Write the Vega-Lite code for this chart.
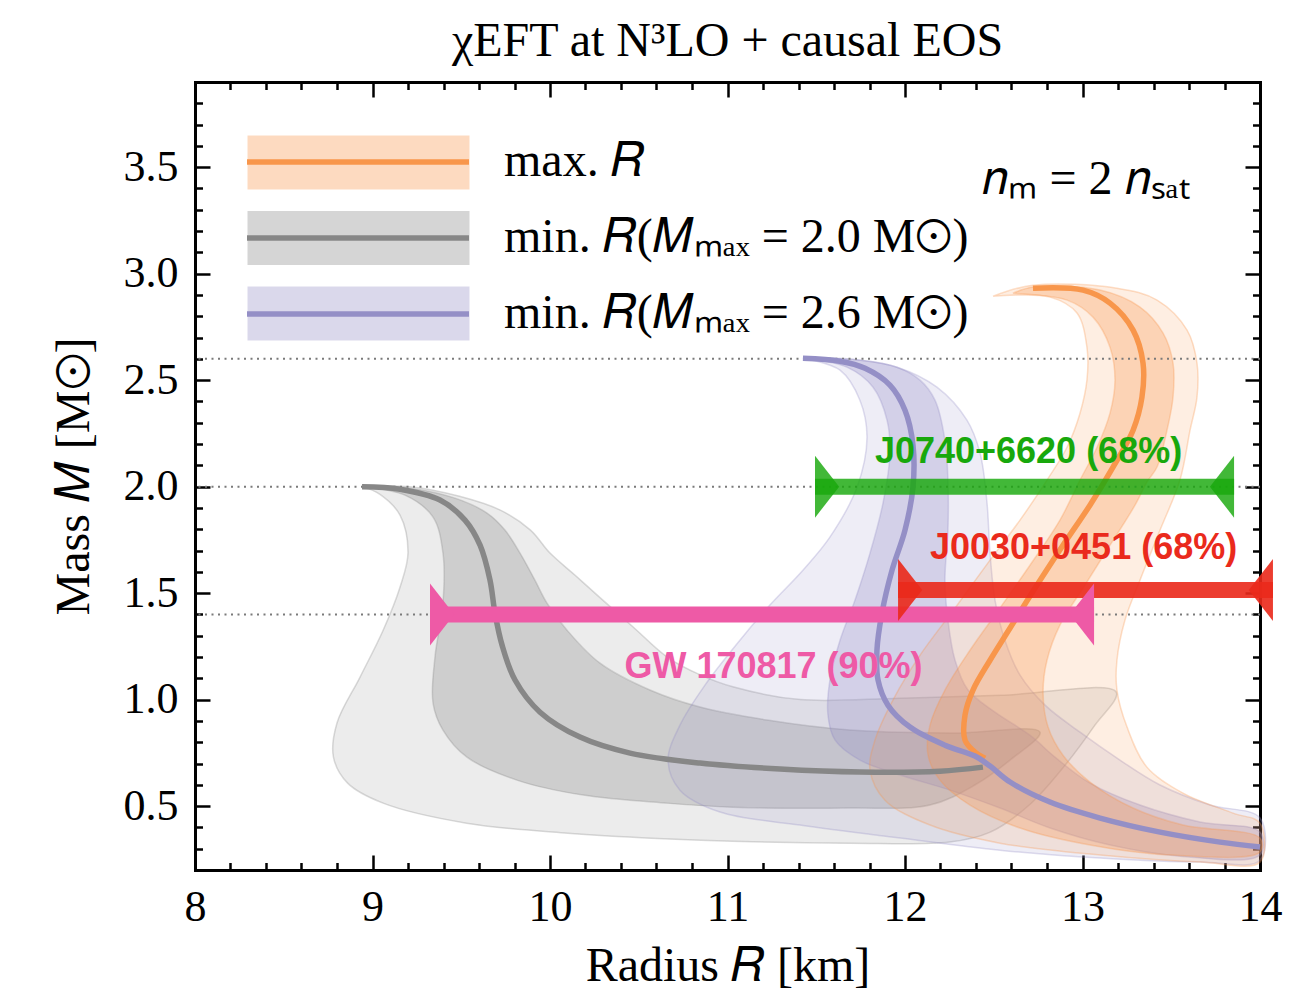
{
"$schema": "https://vega.github.io/schema/vega-lite/v6.json",
"width": 1065, "height": 788,
"autosize": {"type": "none"},
"padding": {"left": 195, "top": 82, "right": 30, "bottom": 120},
"background": "white",
"title": {"text": "χEFT at N³LO + causal EOS", "font": "Liberation Serif", "fontSize": 48, "fontWeight": "normal", "anchor": "middle", "frame": "group", "baseline": "alphabetic", "offset": -23, "color": "black"},
"config": {
  "view": {"stroke": null},
  "axis": {"grid": false, "zindex": 1, "tickColor": "black", "domainColor": "black", "labelColor": "black", "titleColor": "black", "tickWidth": 2.5, "domainWidth": 3, "labelFont": "Liberation Serif", "titleFont": "Liberation Serif", "labelFontSize": 44, "titleFontSize": 48, "titleFontWeight": "normal", "labelOverlap": false, "labelFlush": false, "domainCap": "square"}
},
"resolve": {"axis": {"x": "independent", "y": "independent"}},
"datasets": {
"bands": [
{"band":"b1","series":"min. 𝑅(𝑀ₘₐₓ = 2.0 M⊙)","level":"outer","i":0,"R":8.94,"M":2.0},
{"band":"b1","series":"min. 𝑅(𝑀ₘₐₓ = 2.0 M⊙)","level":"outer","i":1,"R":9.21,"M":2.0},
{"band":"b1","series":"min. 𝑅(𝑀ₘₐₓ = 2.0 M⊙)","level":"outer","i":2,"R":9.49,"M":1.955},
{"band":"b1","series":"min. 𝑅(𝑀ₘₐₓ = 2.0 M⊙)","level":"outer","i":3,"R":9.72,"M":1.89},
{"band":"b1","series":"min. 𝑅(𝑀ₘₐₓ = 2.0 M⊙)","level":"outer","i":4,"R":9.89,"M":1.796},
{"band":"b1","series":"min. 𝑅(𝑀ₘₐₓ = 2.0 M⊙)","level":"outer","i":5,"R":10.0,"M":1.688},
{"band":"b1","series":"min. 𝑅(𝑀ₘₐₓ = 2.0 M⊙)","level":"outer","i":6,"R":10.14,"M":1.585},
{"band":"b1","series":"min. 𝑅(𝑀ₘₐₓ = 2.0 M⊙)","level":"outer","i":7,"R":10.28,"M":1.48},
{"band":"b1","series":"min. 𝑅(𝑀ₘₐₓ = 2.0 M⊙)","level":"outer","i":8,"R":10.47,"M":1.34},
{"band":"b1","series":"min. 𝑅(𝑀ₘₐₓ = 2.0 M⊙)","level":"outer","i":9,"R":10.66,"M":1.2},
{"band":"b1","series":"min. 𝑅(𝑀ₘₐₓ = 2.0 M⊙)","level":"outer","i":10,"R":10.85,"M":1.115},
{"band":"b1","series":"min. 𝑅(𝑀ₘₐₓ = 2.0 M⊙)","level":"outer","i":11,"R":11.03,"M":1.06},
{"band":"b1","series":"min. 𝑅(𝑀ₘₐₓ = 2.0 M⊙)","level":"outer","i":12,"R":11.41,"M":1.0},
{"band":"b1","series":"min. 𝑅(𝑀ₘₐₓ = 2.0 M⊙)","level":"outer","i":13,"R":11.97,"M":1.007},
{"band":"b1","series":"min. 𝑅(𝑀ₘₐₓ = 2.0 M⊙)","level":"outer","i":14,"R":12.54,"M":1.02},
{"band":"b1","series":"min. 𝑅(𝑀ₘₐₓ = 2.0 M⊙)","level":"outer","i":15,"R":13.19,"M":1.035},
{"band":"b1","series":"min. 𝑅(𝑀ₘₐₓ = 2.0 M⊙)","level":"outer","i":16,"R":13.07,"M":0.88},
{"band":"b1","series":"min. 𝑅(𝑀ₘₐₓ = 2.0 M⊙)","level":"outer","i":17,"R":12.9,"M":0.69},
{"band":"b1","series":"min. 𝑅(𝑀ₘₐₓ = 2.0 M⊙)","level":"outer","i":18,"R":12.7,"M":0.505},
{"band":"b1","series":"min. 𝑅(𝑀ₘₐₓ = 2.0 M⊙)","level":"outer","i":19,"R":12.48,"M":0.378},
{"band":"b1","series":"min. 𝑅(𝑀ₘₐₓ = 2.0 M⊙)","level":"outer","i":20,"R":12.25,"M":0.331},
{"band":"b1","series":"min. 𝑅(𝑀ₘₐₓ = 2.0 M⊙)","level":"outer","i":21,"R":11.69,"M":0.326},
{"band":"b1","series":"min. 𝑅(𝑀ₘₐₓ = 2.0 M⊙)","level":"outer","i":22,"R":10.85,"M":0.34},
{"band":"b1","series":"min. 𝑅(𝑀ₘₐₓ = 2.0 M⊙)","level":"outer","i":23,"R":10.1,"M":0.373},
{"band":"b1","series":"min. 𝑅(𝑀ₘₐₓ = 2.0 M⊙)","level":"outer","i":24,"R":9.53,"M":0.42},
{"band":"b1","series":"min. 𝑅(𝑀ₘₐₓ = 2.0 M⊙)","level":"outer","i":25,"R":9.06,"M":0.514},
{"band":"b1","series":"min. 𝑅(𝑀ₘₐₓ = 2.0 M⊙)","level":"outer","i":26,"R":8.86,"M":0.608},
{"band":"b1","series":"min. 𝑅(𝑀ₘₐₓ = 2.0 M⊙)","level":"outer","i":27,"R":8.78,"M":0.73},
{"band":"b1","series":"min. 𝑅(𝑀ₘₐₓ = 2.0 M⊙)","level":"outer","i":28,"R":8.8,"M":0.89},
{"band":"b1","series":"min. 𝑅(𝑀ₘₐₓ = 2.0 M⊙)","level":"outer","i":29,"R":8.93,"M":1.106},
{"band":"b1","series":"min. 𝑅(𝑀ₘₐₓ = 2.0 M⊙)","level":"outer","i":30,"R":9.06,"M":1.326},
{"band":"b1","series":"min. 𝑅(𝑀ₘₐₓ = 2.0 M⊙)","level":"outer","i":31,"R":9.155,"M":1.528},
{"band":"b1","series":"min. 𝑅(𝑀ₘₐₓ = 2.0 M⊙)","level":"outer","i":32,"R":9.2,"M":1.688},
{"band":"b1","series":"min. 𝑅(𝑀ₘₐₓ = 2.0 M⊙)","level":"outer","i":33,"R":9.155,"M":1.866},
{"band":"b1","series":"min. 𝑅(𝑀ₘₐₓ = 2.0 M⊙)","level":"outer","i":34,"R":9.04,"M":1.965},
{"band":"b1","series":"min. 𝑅(𝑀ₘₐₓ = 2.0 M⊙)","level":"outer","i":35,"R":8.94,"M":2.0},
{"band":"b2","series":"min. 𝑅(𝑀ₘₐₓ = 2.0 M⊙)","level":"inner","i":0,"R":8.94,"M":2.0},
{"band":"b2","series":"min. 𝑅(𝑀ₘₐₓ = 2.0 M⊙)","level":"inner","i":1,"R":9.21,"M":1.993},
{"band":"b2","series":"min. 𝑅(𝑀ₘₐₓ = 2.0 M⊙)","level":"inner","i":2,"R":9.465,"M":1.946},
{"band":"b2","series":"min. 𝑅(𝑀ₘₐₓ = 2.0 M⊙)","level":"inner","i":3,"R":9.645,"M":1.876},
{"band":"b2","series":"min. 𝑅(𝑀ₘₐₓ = 2.0 M⊙)","level":"inner","i":4,"R":9.746,"M":1.796},
{"band":"b2","series":"min. 𝑅(𝑀ₘₐₓ = 2.0 M⊙)","level":"inner","i":5,"R":9.831,"M":1.688},
{"band":"b2","series":"min. 𝑅(𝑀ₘₐₓ = 2.0 M⊙)","level":"inner","i":6,"R":9.915,"M":1.561},
{"band":"b2","series":"min. 𝑅(𝑀ₘₐₓ = 2.0 M⊙)","level":"inner","i":7,"R":9.983,"M":1.453},
{"band":"b2","series":"min. 𝑅(𝑀ₘₐₓ = 2.0 M⊙)","level":"inner","i":8,"R":10.096,"M":1.326},
{"band":"b2","series":"min. 𝑅(𝑀ₘₐₓ = 2.0 M⊙)","level":"inner","i":9,"R":10.282,"M":1.171},
{"band":"b2","series":"min. 𝑅(𝑀ₘₐₓ = 2.0 M⊙)","level":"inner","i":10,"R":10.563,"M":1.045},
{"band":"b2","series":"min. 𝑅(𝑀ₘₐₓ = 2.0 M⊙)","level":"inner","i":11,"R":10.845,"M":0.965},
{"band":"b2","series":"min. 𝑅(𝑀ₘₐₓ = 2.0 M⊙)","level":"inner","i":12,"R":11.223,"M":0.904},
{"band":"b2","series":"min. 𝑅(𝑀ₘₐₓ = 2.0 M⊙)","level":"inner","i":13,"R":11.69,"M":0.857},
{"band":"b2","series":"min. 𝑅(𝑀ₘₐₓ = 2.0 M⊙)","level":"inner","i":14,"R":12.254,"M":0.843},
{"band":"b2","series":"min. 𝑅(𝑀ₘₐₓ = 2.0 M⊙)","level":"inner","i":15,"R":12.761,"M":0.847},
{"band":"b2","series":"min. 𝑅(𝑀ₘₐₓ = 2.0 M⊙)","level":"inner","i":16,"R":12.592,"M":0.716},
{"band":"b2","series":"min. 𝑅(𝑀ₘₐₓ = 2.0 M⊙)","level":"inner","i":17,"R":12.394,"M":0.599},
{"band":"b2","series":"min. 𝑅(𝑀ₘₐₓ = 2.0 M⊙)","level":"inner","i":18,"R":12.141,"M":0.505},
{"band":"b2","series":"min. 𝑅(𝑀ₘₐₓ = 2.0 M⊙)","level":"inner","i":19,"R":11.69,"M":0.491},
{"band":"b2","series":"min. 𝑅(𝑀ₘₐₓ = 2.0 M⊙)","level":"inner","i":20,"R":11.031,"M":0.495},
{"band":"b2","series":"min. 𝑅(𝑀ₘₐₓ = 2.0 M⊙)","level":"inner","i":21,"R":10.659,"M":0.514},
{"band":"b2","series":"min. 𝑅(𝑀ₘₐₓ = 2.0 M⊙)","level":"inner","i":22,"R":10.186,"M":0.552},
{"band":"b2","series":"min. 𝑅(𝑀ₘₐₓ = 2.0 M⊙)","level":"inner","i":23,"R":9.814,"M":0.622},
{"band":"b2","series":"min. 𝑅(𝑀ₘₐₓ = 2.0 M⊙)","level":"inner","i":24,"R":9.532,"M":0.73},
{"band":"b2","series":"min. 𝑅(𝑀ₘₐₓ = 2.0 M⊙)","level":"inner","i":25,"R":9.397,"M":0.857},
{"band":"b2","series":"min. 𝑅(𝑀ₘₐₓ = 2.0 M⊙)","level":"inner","i":26,"R":9.341,"M":0.984},
{"band":"b2","series":"min. 𝑅(𝑀ₘₐₓ = 2.0 M⊙)","level":"inner","i":27,"R":9.352,"M":1.2},
{"band":"b2","series":"min. 𝑅(𝑀ₘₐₓ = 2.0 M⊙)","level":"inner","i":28,"R":9.397,"M":1.453},
{"band":"b2","series":"min. 𝑅(𝑀ₘₐₓ = 2.0 M⊙)","level":"inner","i":29,"R":9.397,"M":1.688},
{"band":"b2","series":"min. 𝑅(𝑀ₘₐₓ = 2.0 M⊙)","level":"inner","i":30,"R":9.341,"M":1.857},
{"band":"b2","series":"min. 𝑅(𝑀ₘₐₓ = 2.0 M⊙)","level":"inner","i":31,"R":9.183,"M":1.96},
{"band":"b2","series":"min. 𝑅(𝑀ₘₐₓ = 2.0 M⊙)","level":"inner","i":32,"R":8.94,"M":2.0},
{"band":"b3","series":"min. 𝑅(𝑀ₘₐₓ = 2.6 M⊙)","level":"outer","i":0,"R":11.425,"M":2.603},
{"band":"b3","series":"min. 𝑅(𝑀ₘₐₓ = 2.6 M⊙)","level":"outer","i":1,"R":11.69,"M":2.599},
{"band":"b3","series":"min. 𝑅(𝑀ₘₐₓ = 2.6 M⊙)","level":"outer","i":2,"R":11.955,"M":2.561},
{"band":"b3","series":"min. 𝑅(𝑀ₘₐₓ = 2.6 M⊙)","level":"outer","i":3,"R":12.18,"M":2.467},
{"band":"b3","series":"min. 𝑅(𝑀ₘₐₓ = 2.6 M⊙)","level":"outer","i":4,"R":12.349,"M":2.312},
{"band":"b3","series":"min. 𝑅(𝑀ₘₐₓ = 2.6 M⊙)","level":"outer","i":5,"R":12.423,"M":2.157},
{"band":"b3","series":"min. 𝑅(𝑀ₘₐₓ = 2.6 M⊙)","level":"outer","i":6,"R":12.462,"M":1.923},
{"band":"b3","series":"min. 𝑅(𝑀ₘₐₓ = 2.6 M⊙)","level":"outer","i":7,"R":12.479,"M":1.688},
{"band":"b3","series":"min. 𝑅(𝑀ₘₐₓ = 2.6 M⊙)","level":"outer","i":8,"R":12.507,"M":1.467},
{"band":"b3","series":"min. 𝑅(𝑀ₘₐₓ = 2.6 M⊙)","level":"outer","i":9,"R":12.563,"M":1.279},
{"band":"b3","series":"min. 𝑅(𝑀ₘₐₓ = 2.6 M⊙)","level":"outer","i":10,"R":12.648,"M":1.115},
{"band":"b3","series":"min. 𝑅(𝑀ₘₐₓ = 2.6 M⊙)","level":"outer","i":11,"R":12.789,"M":0.974},
{"band":"b3","series":"min. 𝑅(𝑀ₘₐₓ = 2.6 M⊙)","level":"outer","i":12,"R":12.986,"M":0.847},
{"band":"b3","series":"min. 𝑅(𝑀ₘₐₓ = 2.6 M⊙)","level":"outer","i":13,"R":13.211,"M":0.716},
{"band":"b3","series":"min. 𝑅(𝑀ₘₐₓ = 2.6 M⊙)","level":"outer","i":14,"R":13.437,"M":0.599},
{"band":"b3","series":"min. 𝑅(𝑀ₘₐₓ = 2.6 M⊙)","level":"outer","i":15,"R":13.718,"M":0.505},
{"band":"b3","series":"min. 𝑅(𝑀ₘₐₓ = 2.6 M⊙)","level":"outer","i":16,"R":14.0,"M":0.444},
{"band":"b3","series":"min. 𝑅(𝑀ₘₐₓ = 2.6 M⊙)","level":"outer","i":17,"R":14.0,"M":0.246},
{"band":"b3","series":"min. 𝑅(𝑀ₘₐₓ = 2.6 M⊙)","level":"outer","i":18,"R":13.662,"M":0.237},
{"band":"b3","series":"min. 𝑅(𝑀ₘₐₓ = 2.6 M⊙)","level":"outer","i":19,"R":13.099,"M":0.256},
{"band":"b3","series":"min. 𝑅(𝑀ₘₐₓ = 2.6 M⊙)","level":"outer","i":20,"R":12.535,"M":0.293},
{"band":"b3","series":"min. 𝑅(𝑀ₘₐₓ = 2.6 M⊙)","level":"outer","i":21,"R":11.972,"M":0.35},
{"band":"b3","series":"min. 𝑅(𝑀ₘₐₓ = 2.6 M⊙)","level":"outer","i":22,"R":11.408,"M":0.411},
{"band":"b3","series":"min. 𝑅(𝑀ₘₐₓ = 2.6 M⊙)","level":"outer","i":23,"R":10.958,"M":0.472},
{"band":"b3","series":"min. 𝑅(𝑀ₘₐₓ = 2.6 M⊙)","level":"outer","i":24,"R":10.732,"M":0.575},
{"band":"b3","series":"min. 𝑅(𝑀ₘₐₓ = 2.6 M⊙)","level":"outer","i":25,"R":10.665,"M":0.716},
{"band":"b3","series":"min. 𝑅(𝑀ₘₐₓ = 2.6 M⊙)","level":"outer","i":26,"R":10.732,"M":0.88},
{"band":"b3","series":"min. 𝑅(𝑀ₘₐₓ = 2.6 M⊙)","level":"outer","i":27,"R":10.873,"M":1.068},
{"band":"b3","series":"min. 𝑅(𝑀ₘₐₓ = 2.6 M⊙)","level":"outer","i":28,"R":11.07,"M":1.279},
{"band":"b3","series":"min. 𝑅(𝑀ₘₐₓ = 2.6 M⊙)","level":"outer","i":29,"R":11.239,"M":1.444},
{"band":"b3","series":"min. 𝑅(𝑀ₘₐₓ = 2.6 M⊙)","level":"outer","i":30,"R":11.425,"M":1.608},
{"band":"b3","series":"min. 𝑅(𝑀ₘₐₓ = 2.6 M⊙)","level":"outer","i":31,"R":11.577,"M":1.763},
{"band":"b3","series":"min. 𝑅(𝑀ₘₐₓ = 2.6 M⊙)","level":"outer","i":32,"R":11.73,"M":1.998},
{"band":"b3","series":"min. 𝑅(𝑀ₘₐₓ = 2.6 M⊙)","level":"outer","i":33,"R":11.786,"M":2.232},
{"band":"b3","series":"min. 𝑅(𝑀ₘₐₓ = 2.6 M⊙)","level":"outer","i":34,"R":11.746,"M":2.406},
{"band":"b3","series":"min. 𝑅(𝑀ₘₐₓ = 2.6 M⊙)","level":"outer","i":35,"R":11.634,"M":2.547},
{"band":"b3","series":"min. 𝑅(𝑀ₘₐₓ = 2.6 M⊙)","level":"outer","i":36,"R":11.425,"M":2.603},
{"band":"b4","series":"min. 𝑅(𝑀ₘₐₓ = 2.6 M⊙)","level":"inner","i":0,"R":11.425,"M":2.603},
{"band":"b4","series":"min. 𝑅(𝑀ₘₐₓ = 2.6 M⊙)","level":"inner","i":1,"R":11.746,"M":2.594},
{"band":"b4","series":"min. 𝑅(𝑀ₘₐₓ = 2.6 M⊙)","level":"inner","i":2,"R":11.955,"M":2.561},
{"band":"b4","series":"min. 𝑅(𝑀ₘₐₓ = 2.6 M⊙)","level":"inner","i":3,"R":12.085,"M":2.5},
{"band":"b4","series":"min. 𝑅(𝑀ₘₐₓ = 2.6 M⊙)","level":"inner","i":4,"R":12.169,"M":2.406},
{"band":"b4","series":"min. 𝑅(𝑀ₘₐₓ = 2.6 M⊙)","level":"inner","i":5,"R":12.225,"M":2.218},
{"band":"b4","series":"min. 𝑅(𝑀ₘₐₓ = 2.6 M⊙)","level":"inner","i":6,"R":12.242,"M":2.031},
{"band":"b4","series":"min. 𝑅(𝑀ₘₐₓ = 2.6 M⊙)","level":"inner","i":7,"R":12.242,"M":1.796},
{"band":"b4","series":"min. 𝑅(𝑀ₘₐₓ = 2.6 M⊙)","level":"inner","i":8,"R":12.225,"M":1.561},
{"band":"b4","series":"min. 𝑅(𝑀ₘₐₓ = 2.6 M⊙)","level":"inner","i":9,"R":12.242,"M":1.373},
{"band":"b4","series":"min. 𝑅(𝑀ₘₐₓ = 2.6 M⊙)","level":"inner","i":10,"R":12.282,"M":1.185},
{"band":"b4","series":"min. 𝑅(𝑀ₘₐₓ = 2.6 M⊙)","level":"inner","i":11,"R":12.355,"M":1.045},
{"band":"b4","series":"min. 𝑅(𝑀ₘₐₓ = 2.6 M⊙)","level":"inner","i":12,"R":12.507,"M":0.941},
{"band":"b4","series":"min. 𝑅(𝑀ₘₐₓ = 2.6 M⊙)","level":"inner","i":13,"R":12.704,"M":0.833},
{"band":"b4","series":"min. 𝑅(𝑀ₘₐₓ = 2.6 M⊙)","level":"inner","i":14,"R":12.845,"M":0.73},
{"band":"b4","series":"min. 𝑅(𝑀ₘₐₓ = 2.6 M⊙)","level":"inner","i":15,"R":13.042,"M":0.608},
{"band":"b4","series":"min. 𝑅(𝑀ₘₐₓ = 2.6 M⊙)","level":"inner","i":16,"R":13.324,"M":0.505},
{"band":"b4","series":"min. 𝑅(𝑀ₘₐₓ = 2.6 M⊙)","level":"inner","i":17,"R":13.662,"M":0.425},
{"band":"b4","series":"min. 𝑅(𝑀ₘₐₓ = 2.6 M⊙)","level":"inner","i":18,"R":14.0,"M":0.378},
{"band":"b4","series":"min. 𝑅(𝑀ₘₐₓ = 2.6 M⊙)","level":"inner","i":19,"R":14.0,"M":0.27},
{"band":"b4","series":"min. 𝑅(𝑀ₘₐₓ = 2.6 M⊙)","level":"inner","i":20,"R":13.549,"M":0.265},
{"band":"b4","series":"min. 𝑅(𝑀ₘₐₓ = 2.6 M⊙)","level":"inner","i":21,"R":13.155,"M":0.317},
{"band":"b4","series":"min. 𝑅(𝑀ₘₐₓ = 2.6 M⊙)","level":"inner","i":22,"R":12.817,"M":0.397},
{"band":"b4","series":"min. 𝑅(𝑀ₘₐₓ = 2.6 M⊙)","level":"inner","i":23,"R":12.535,"M":0.491},
{"band":"b4","series":"min. 𝑅(𝑀ₘₐₓ = 2.6 M⊙)","level":"inner","i":24,"R":12.254,"M":0.575},
{"band":"b4","series":"min. 𝑅(𝑀ₘₐₓ = 2.6 M⊙)","level":"inner","i":25,"R":11.972,"M":0.646},
{"band":"b4","series":"min. 𝑅(𝑀ₘₐₓ = 2.6 M⊙)","level":"inner","i":26,"R":11.746,"M":0.716},
{"band":"b4","series":"min. 𝑅(𝑀ₘₐₓ = 2.6 M⊙)","level":"inner","i":27,"R":11.606,"M":0.81},
{"band":"b4","series":"min. 𝑅(𝑀ₘₐₓ = 2.6 M⊙)","level":"inner","i":28,"R":11.566,"M":0.927},
{"band":"b4","series":"min. 𝑅(𝑀ₘₐₓ = 2.6 M⊙)","level":"inner","i":29,"R":11.577,"M":1.092},
{"band":"b4","series":"min. 𝑅(𝑀ₘₐₓ = 2.6 M⊙)","level":"inner","i":30,"R":11.634,"M":1.279},
{"band":"b4","series":"min. 𝑅(𝑀ₘₐₓ = 2.6 M⊙)","level":"inner","i":31,"R":11.718,"M":1.467},
{"band":"b4","series":"min. 𝑅(𝑀ₘₐₓ = 2.6 M⊙)","level":"inner","i":32,"R":11.803,"M":1.688},
{"band":"b4","series":"min. 𝑅(𝑀ₘₐₓ = 2.6 M⊙)","level":"inner","i":33,"R":11.876,"M":1.923},
{"band":"b4","series":"min. 𝑅(𝑀ₘₐₓ = 2.6 M⊙)","level":"inner","i":34,"R":11.915,"M":2.157},
{"band":"b4","series":"min. 𝑅(𝑀ₘₐₓ = 2.6 M⊙)","level":"inner","i":35,"R":11.899,"M":2.312},
{"band":"b4","series":"min. 𝑅(𝑀ₘₐₓ = 2.6 M⊙)","level":"inner","i":36,"R":11.82,"M":2.467},
{"band":"b4","series":"min. 𝑅(𝑀ₘₐₓ = 2.6 M⊙)","level":"inner","i":37,"R":11.673,"M":2.561},
{"band":"b4","series":"min. 𝑅(𝑀ₘₐₓ = 2.6 M⊙)","level":"inner","i":38,"R":11.425,"M":2.603},
{"band":"b5","series":"max. 𝑅","level":"outer","i":0,"R":12.496,"M":2.894},
{"band":"b5","series":"max. 𝑅","level":"outer","i":1,"R":12.721,"M":2.946},
{"band":"b5","series":"max. 𝑅","level":"outer","i":2,"R":13.194,"M":2.932},
{"band":"b5","series":"max. 𝑅","level":"outer","i":3,"R":13.42,"M":2.876},
{"band":"b5","series":"max. 𝑅","level":"outer","i":4,"R":13.589,"M":2.735},
{"band":"b5","series":"max. 𝑅","level":"outer","i":5,"R":13.645,"M":2.58},
{"band":"b5","series":"max. 𝑅","level":"outer","i":6,"R":13.645,"M":2.42},
{"band":"b5","series":"max. 𝑅","level":"outer","i":7,"R":13.606,"M":2.265},
{"band":"b5","series":"max. 𝑅","level":"outer","i":8,"R":13.549,"M":2.031},
{"band":"b5","series":"max. 𝑅","level":"outer","i":9,"R":13.437,"M":1.796},
{"band":"b5","series":"max. 𝑅","level":"outer","i":10,"R":13.324,"M":1.561},
{"band":"b5","series":"max. 𝑅","level":"outer","i":11,"R":13.239,"M":1.373},
{"band":"b5","series":"max. 𝑅","level":"outer","i":12,"R":13.194,"M":1.185},
{"band":"b5","series":"max. 𝑅","level":"outer","i":13,"R":13.194,"M":1.045},
{"band":"b5","series":"max. 𝑅","level":"outer","i":14,"R":13.251,"M":0.871},
{"band":"b5","series":"max. 𝑅","level":"outer","i":15,"R":13.363,"M":0.683},
{"band":"b5","series":"max. 𝑅","level":"outer","i":16,"R":13.566,"M":0.561},
{"band":"b5","series":"max. 𝑅","level":"outer","i":17,"R":13.848,"M":0.467},
{"band":"b5","series":"max. 𝑅","level":"outer","i":18,"R":14.0,"M":0.42},
{"band":"b5","series":"max. 𝑅","level":"outer","i":19,"R":14.0,"M":0.237},
{"band":"b5","series":"max. 𝑅","level":"outer","i":20,"R":13.662,"M":0.237},
{"band":"b5","series":"max. 𝑅","level":"outer","i":21,"R":13.099,"M":0.27},
{"band":"b5","series":"max. 𝑅","level":"outer","i":22,"R":12.535,"M":0.326},
{"band":"b5","series":"max. 𝑅","level":"outer","i":23,"R":12.141,"M":0.411},
{"band":"b5","series":"max. 𝑅","level":"outer","i":24,"R":11.887,"M":0.528},
{"band":"b5","series":"max. 𝑅","level":"outer","i":25,"R":11.803,"M":0.669},
{"band":"b5","series":"max. 𝑅","level":"outer","i":26,"R":11.831,"M":0.81},
{"band":"b5","series":"max. 𝑅","level":"outer","i":27,"R":11.932,"M":0.998},
{"band":"b5","series":"max. 𝑅","level":"outer","i":28,"R":12.085,"M":1.209},
{"band":"b5","series":"max. 𝑅","level":"outer","i":29,"R":12.282,"M":1.43},
{"band":"b5","series":"max. 𝑅","level":"outer","i":30,"R":12.479,"M":1.655},
{"band":"b5","series":"max. 𝑅","level":"outer","i":31,"R":12.648,"M":1.843},
{"band":"b5","series":"max. 𝑅","level":"outer","i":32,"R":12.8,"M":2.031},
{"band":"b5","series":"max. 𝑅","level":"outer","i":33,"R":12.913,"M":2.185},
{"band":"b5","series":"max. 𝑅","level":"outer","i":34,"R":12.986,"M":2.345},
{"band":"b5","series":"max. 𝑅","level":"outer","i":35,"R":13.025,"M":2.5},
{"band":"b5","series":"max. 𝑅","level":"outer","i":36,"R":13.025,"M":2.655},
{"band":"b5","series":"max. 𝑅","level":"outer","i":37,"R":12.969,"M":2.815},
{"band":"b5","series":"max. 𝑅","level":"outer","i":38,"R":12.817,"M":2.89},
{"band":"b5","series":"max. 𝑅","level":"outer","i":39,"R":12.496,"M":2.894},
{"band":"b6","series":"max. 𝑅","level":"inner","i":0,"R":12.608,"M":2.908},
{"band":"b6","series":"max. 𝑅","level":"inner","i":1,"R":12.721,"M":2.937},
{"band":"b6","series":"max. 𝑅","level":"inner","i":2,"R":13.099,"M":2.923},
{"band":"b6","series":"max. 𝑅","level":"inner","i":3,"R":13.324,"M":2.843},
{"band":"b6","series":"max. 𝑅","level":"inner","i":4,"R":13.454,"M":2.721},
{"band":"b6","series":"max. 𝑅","level":"inner","i":5,"R":13.51,"M":2.58},
{"band":"b6","series":"max. 𝑅","level":"inner","i":6,"R":13.51,"M":2.42},
{"band":"b6","series":"max. 𝑅","level":"inner","i":7,"R":13.476,"M":2.265},
{"band":"b6","series":"max. 𝑅","level":"inner","i":8,"R":13.42,"M":2.092},
{"band":"b6","series":"max. 𝑅","level":"inner","i":9,"R":13.363,"M":2.021},
{"band":"b6","series":"max. 𝑅","level":"inner","i":10,"R":13.296,"M":1.913},
{"band":"b6","series":"max. 𝑅","level":"inner","i":11,"R":13.155,"M":1.725},
{"band":"b6","series":"max. 𝑅","level":"inner","i":12,"R":13.014,"M":1.538},
{"band":"b6","series":"max. 𝑅","level":"inner","i":13,"R":12.873,"M":1.35},
{"band":"b6","series":"max. 𝑅","level":"inner","i":14,"R":12.8,"M":1.185},
{"band":"b6","series":"max. 𝑅","level":"inner","i":15,"R":12.778,"M":1.031},
{"band":"b6","series":"max. 𝑅","level":"inner","i":16,"R":12.806,"M":0.871},
{"band":"b6","series":"max. 𝑅","level":"inner","i":17,"R":12.89,"M":0.739},
{"band":"b6","series":"max. 𝑅","level":"inner","i":18,"R":13.042,"M":0.613},
{"band":"b6","series":"max. 𝑅","level":"inner","i":19,"R":13.285,"M":0.491},
{"band":"b6","series":"max. 𝑅","level":"inner","i":20,"R":13.566,"M":0.411},
{"band":"b6","series":"max. 𝑅","level":"inner","i":21,"R":14.0,"M":0.35},
{"band":"b6","series":"max. 𝑅","level":"inner","i":22,"R":14.0,"M":0.284},
{"band":"b6","series":"max. 𝑅","level":"inner","i":23,"R":13.493,"M":0.27},
{"band":"b6","series":"max. 𝑅","level":"inner","i":24,"R":13.042,"M":0.317},
{"band":"b6","series":"max. 𝑅","level":"inner","i":25,"R":12.648,"M":0.397},
{"band":"b6","series":"max. 𝑅","level":"inner","i":26,"R":12.366,"M":0.505},
{"band":"b6","series":"max. 𝑅","level":"inner","i":27,"R":12.197,"M":0.622},
{"band":"b6","series":"max. 𝑅","level":"inner","i":28,"R":12.13,"M":0.739},
{"band":"b6","series":"max. 𝑅","level":"inner","i":29,"R":12.141,"M":0.88},
{"band":"b6","series":"max. 𝑅","level":"inner","i":30,"R":12.225,"M":1.045},
{"band":"b6","series":"max. 𝑅","level":"inner","i":31,"R":12.366,"M":1.232},
{"band":"b6","series":"max. 𝑅","level":"inner","i":32,"R":12.535,"M":1.43},
{"band":"b6","series":"max. 𝑅","level":"inner","i":33,"R":12.704,"M":1.631},
{"band":"b6","series":"max. 𝑅","level":"inner","i":34,"R":12.873,"M":1.843},
{"band":"b6","series":"max. 𝑅","level":"inner","i":35,"R":12.986,"M":2.031},
{"band":"b6","series":"max. 𝑅","level":"inner","i":36,"R":13.082,"M":2.185},
{"band":"b6","series":"max. 𝑅","level":"inner","i":37,"R":13.155,"M":2.345},
{"band":"b6","series":"max. 𝑅","level":"inner","i":38,"R":13.183,"M":2.5},
{"band":"b6","series":"max. 𝑅","level":"inner","i":39,"R":13.155,"M":2.655},
{"band":"b6","series":"max. 𝑅","level":"inner","i":40,"R":13.059,"M":2.796},
{"band":"b6","series":"max. 𝑅","level":"inner","i":41,"R":12.913,"M":2.876},
{"band":"b6","series":"max. 𝑅","level":"inner","i":42,"R":12.608,"M":2.908}
],
"lines": [
{"series":"min. 𝑅(𝑀ₘₐₓ = 2.0 M⊙)","i":0,"R":8.941,"M":2.0},
{"series":"min. 𝑅(𝑀ₘₐₓ = 2.0 M⊙)","i":1,"R":9.155,"M":1.988},
{"series":"min. 𝑅(𝑀ₘₐₓ = 2.0 M⊙)","i":2,"R":9.38,"M":1.937},
{"series":"min. 𝑅(𝑀ₘₐₓ = 2.0 M⊙)","i":3,"R":9.521,"M":1.843},
{"series":"min. 𝑅(𝑀ₘₐₓ = 2.0 M⊙)","i":4,"R":9.606,"M":1.725},
{"series":"min. 𝑅(𝑀ₘₐₓ = 2.0 M⊙)","i":5,"R":9.662,"M":1.561},
{"series":"min. 𝑅(𝑀ₘₐₓ = 2.0 M⊙)","i":6,"R":9.69,"M":1.406},
{"series":"min. 𝑅(𝑀ₘₐₓ = 2.0 M⊙)","i":7,"R":9.73,"M":1.256},
{"series":"min. 𝑅(𝑀ₘₐₓ = 2.0 M⊙)","i":8,"R":9.803,"M":1.092},
{"series":"min. 𝑅(𝑀ₘₐₓ = 2.0 M⊙)","i":9,"R":9.944,"M":0.941},
{"series":"min. 𝑅(𝑀ₘₐₓ = 2.0 M⊙)","i":10,"R":10.169,"M":0.824},
{"series":"min. 𝑅(𝑀ₘₐₓ = 2.0 M⊙)","i":11,"R":10.451,"M":0.749},
{"series":"min. 𝑅(𝑀ₘₐₓ = 2.0 M⊙)","i":12,"R":10.845,"M":0.702},
{"series":"min. 𝑅(𝑀ₘₐₓ = 2.0 M⊙)","i":13,"R":11.296,"M":0.674},
{"series":"min. 𝑅(𝑀ₘₐₓ = 2.0 M⊙)","i":14,"R":11.746,"M":0.66},
{"series":"min. 𝑅(𝑀ₘₐₓ = 2.0 M⊙)","i":15,"R":12.197,"M":0.664},
{"series":"min. 𝑅(𝑀ₘₐₓ = 2.0 M⊙)","i":16,"R":12.439,"M":0.683},
{"series":"max. 𝑅","i":0,"R":12.721,"M":2.932},
{"series":"max. 𝑅","i":1,"R":13.003,"M":2.923},
{"series":"max. 𝑅","i":2,"R":13.155,"M":2.862},
{"series":"max. 𝑅","i":3,"R":13.285,"M":2.735},
{"series":"max. 𝑅","i":4,"R":13.341,"M":2.58},
{"series":"max. 𝑅","i":5,"R":13.335,"M":2.42},
{"series":"max. 𝑅","i":6,"R":13.285,"M":2.265},
{"series":"max. 𝑅","i":7,"R":13.172,"M":2.092},
{"series":"max. 𝑅","i":8,"R":13.042,"M":1.913},
{"series":"max. 𝑅","i":9,"R":12.89,"M":1.725},
{"series":"max. 𝑅","i":10,"R":12.732,"M":1.523},
{"series":"max. 𝑅","i":11,"R":12.592,"M":1.336},
{"series":"max. 𝑅","i":12,"R":12.479,"M":1.185},
{"series":"max. 𝑅","i":13,"R":12.383,"M":1.045},
{"series":"max. 𝑅","i":14,"R":12.338,"M":0.927},
{"series":"max. 𝑅","i":15,"R":12.338,"M":0.81},
{"series":"max. 𝑅","i":16,"R":12.394,"M":0.754},
{"series":"max. 𝑅","i":17,"R":12.451,"M":0.725},
{"series":"min. 𝑅(𝑀ₘₐₓ = 2.6 M⊙)","i":0,"R":11.425,"M":2.603},
{"series":"min. 𝑅(𝑀ₘₐₓ = 2.6 M⊙)","i":1,"R":11.634,"M":2.589},
{"series":"min. 𝑅(𝑀ₘₐₓ = 2.6 M⊙)","i":2,"R":11.775,"M":2.556},
{"series":"min. 𝑅(𝑀ₘₐₓ = 2.6 M⊙)","i":3,"R":11.915,"M":2.477},
{"series":"min. 𝑅(𝑀ₘₐₓ = 2.6 M⊙)","i":4,"R":12.0,"M":2.359},
{"series":"min. 𝑅(𝑀ₘₐₓ = 2.6 M⊙)","i":5,"R":12.045,"M":2.195},
{"series":"min. 𝑅(𝑀ₘₐₓ = 2.6 M⊙)","i":6,"R":12.045,"M":1.998},
{"series":"min. 𝑅(𝑀ₘₐₓ = 2.6 M⊙)","i":7,"R":12.0,"M":1.796},
{"series":"min. 𝑅(𝑀ₘₐₓ = 2.6 M⊙)","i":8,"R":11.927,"M":1.608},
{"series":"min. 𝑅(𝑀ₘₐₓ = 2.6 M⊙)","i":9,"R":11.87,"M":1.406},
{"series":"min. 𝑅(𝑀ₘₐₓ = 2.6 M⊙)","i":10,"R":11.842,"M":1.232},
{"series":"min. 𝑅(𝑀ₘₐₓ = 2.6 M⊙)","i":11,"R":11.848,"M":1.092},
{"series":"min. 𝑅(𝑀ₘₐₓ = 2.6 M⊙)","i":12,"R":11.904,"M":0.974},
{"series":"min. 𝑅(𝑀ₘₐₓ = 2.6 M⊙)","i":13,"R":12.028,"M":0.871},
{"series":"min. 𝑅(𝑀ₘₐₓ = 2.6 M⊙)","i":14,"R":12.225,"M":0.786},
{"series":"min. 𝑅(𝑀ₘₐₓ = 2.6 M⊙)","i":15,"R":12.394,"M":0.735},
{"series":"min. 𝑅(𝑀ₘₐₓ = 2.6 M⊙)","i":16,"R":12.479,"M":0.688},
{"series":"min. 𝑅(𝑀ₘₐₓ = 2.6 M⊙)","i":17,"R":12.592,"M":0.613},
{"series":"min. 𝑅(𝑀ₘₐₓ = 2.6 M⊙)","i":18,"R":12.817,"M":0.519},
{"series":"min. 𝑅(𝑀ₘₐₓ = 2.6 M⊙)","i":19,"R":13.099,"M":0.444},
{"series":"min. 𝑅(𝑀ₘₐₓ = 2.6 M⊙)","i":20,"R":13.437,"M":0.378},
{"series":"min. 𝑅(𝑀ₘₐₓ = 2.6 M⊙)","i":21,"R":13.775,"M":0.331},
{"series":"min. 𝑅(𝑀ₘₐₓ = 2.6 M⊙)","i":22,"R":14.0,"M":0.308}
],
"refs": [{"M": 1.4}, {"M": 2.0}, {"M": 2.6}],
"bars": [
{"obs": "GW 170817", "Rlo": 9.324, "Rhi": 13.065, "M": 1.4},
{"obs": "J0030+0451", "Rlo": 11.961, "Rhi": 14.073, "M": 1.515},
{"obs": "J0740+6620", "Rlo": 11.493, "Rhi": 13.854, "M": 2.0}
],
"labels": [
{"obs": "GW 170817", "label": "GW 170817 (90%)", "R": 11.259, "M": 1.153},
{"obs": "J0030+0451", "label": "J0030+0451 (68%)", "R": 13.006, "M": 1.711},
{"obs": "J0740+6620", "label": "J0740+6620 (68%)", "R": 12.696, "M": 2.162}
],
"note": [{"text": "𝑛ₘ = 2 𝑛ₛₐₜ", "R": 13.02, "M": 3.44}]
},
"layer": [
{
 "data": {"name": "bands"},
 "mark": {"type": "line", "interpolate": "catmull-rom", "strokeWidth": 1.5, "strokeOpacity": 0.3},
 "encoding": {
  "x": {"field": "R", "type": "quantitative", "scale": {"domain": [8, 14], "nice": false, "zero": false},
        "axis": {"orient": "bottom", "values": [8, 9, 10, 11, 12, 13, 14], "format": "d", "ticks": false, "domain": false, "labelPadding": 15, "title": "Radius 𝑅 [km]", "titleBaseline": "alphabetic", "titleY": 110}},
  "y": {"field": "M", "type": "quantitative", "scale": {"domain": [0.2, 3.9], "nice": false, "zero": false},
        "axis": {"orient": "left", "values": [0.5, 1, 1.5, 2, 2.5, 3, 3.5], "format": ".1f", "ticks": false, "domain": false, "labelPadding": 17, "title": "Mass 𝑀 [M⊙]", "titleBaseline": "alphabetic", "titleX": -107, "titleY": 394}},
  "order": {"field": "i", "type": "quantitative"},
  "detail": {"field": "band", "type": "nominal"},
  "fill": {"field": "series", "type": "nominal", "scale": {"range": ["#f8964b", "#878787", "#948fc6"]},
           "legend": {"orient": "none", "legendX": 135, "legendY": 52, "title": null, "padding": 0,
                      "symbolType": "M-4.111,-1L4.111,-1L4.111,1L-4.111,1Z", "symbolSize": 2916, "symbolStrokeWidth": 2.5,
                      "labelExpr": "''", "labelFontSize": 1, "labelOffset": 0, "rowPadding": 10.5,
                      "encode": {"symbols": {"update": {"fillOpacity": {"value": 0.35}, "stroke": {"value": {"expr": "scale('fill', datum.value)"}}, "strokeOpacity": {"value": 0.35}, "opacity": {"value": 1}}}}}},
  "stroke": {"field": "series", "type": "nominal", "scale": {"range": ["#f8964b", "#878787", "#948fc6"]}},
  "fillOpacity": {"field": "level", "type": "ordinal", "scale": {"domain": ["outer", "inner"], "range": [0.16, 0.3]}, "legend": null}
 }
},
{
 "data": {"name": "refs"},
 "mark": {"type": "rule", "strokeDash": [2, 4.5], "strokeWidth": 2, "color": "#7a7a7a"},
 "encoding": {"y": {"field": "M", "type": "quantitative", "axis": null}}
},
{
 "data": {"name": "lines"},
 "mark": {"type": "line", "interpolate": "catmull-rom", "strokeWidth": 5.5, "strokeCap": "butt"},
 "encoding": {
  "x": {"field": "R", "type": "quantitative", "axis": {"orient": "bottom", "values": [8, 9, 10, 11, 12, 13, 14], "labels": false, "tickSize": -15, "domain": true, "title": null}},
  "y": {"field": "M", "type": "quantitative", "axis": {"orient": "left", "values": [0.5, 1, 1.5, 2, 2.5, 3, 3.5], "labels": false, "tickSize": -15, "domain": true, "title": null}},
  "order": {"field": "i", "type": "quantitative"},
  "stroke": {"field": "series", "type": "nominal",
             "legend": {"orient": "top-left", "offset": 50, "title": null, "padding": 0,
                        "symbolType": "M-4.111,-1M-4.111,0L4.111,0M4.111,1", "symbolSize": 2916, "symbolStrokeWidth": 5.5, "symbolOffset": 83,
                        "labelFont": "Liberation Serif", "labelFontSize": 48, "labelColor": "black", "labelOffset": 116, "labelLimit": 1000, "rowPadding": 0}}
 }
},
{
 "data": {"name": "bars"},
 "mark": {"type": "rule", "strokeWidth": 16, "strokeCap": "butt"},
 "encoding": {
  "x": {"field": "Rlo", "type": "quantitative", "axis": {"orient": "top", "values": [8, 9, 10, 11, 12, 13, 14], "labels": false, "tickSize": -15, "domain": true, "title": null}},
  "x2": {"field": "Rhi"},
  "y": {"field": "M", "type": "quantitative", "axis": {"orient": "right", "values": [0.5, 1, 1.5, 2, 2.5, 3, 3.5], "labels": false, "tickSize": -15, "domain": true, "title": null}},
  "color": {"field": "obs", "type": "nominal", "scale": {"domain": ["GW 170817", "J0030+0451", "J0740+6620"], "range": ["#ee5aa6", "#ea2a1c", "#18a80c"]}, "legend": null},
  "opacity": {"field": "obs", "type": "nominal", "scale": {"domain": ["GW 170817", "J0030+0451", "J0740+6620"], "range": [1, 0.82, 1]}, "legend": null}
 }
},
{
 "data": {"name": "bars"},
 "mark": {"type": "point", "filled": true, "shape": "M0,-1L0.78,0L0,1Z", "size": 3844, "strokeWidth": 0},
 "encoding": {
  "x": {"field": "Rlo", "type": "quantitative", "axis": {"orient": "bottom", "values": [8.2,8.4,8.6,8.8,9.2,9.4,9.6,9.8,10.2,10.4,10.6,10.8,11.2,11.4,11.6,11.8,12.2,12.4,12.6,12.8,13.2,13.4,13.6,13.8], "labels": false, "tickSize": -7.5, "domain": false, "title": null}},
  "y": {"field": "M", "type": "quantitative", "axis": {"orient": "left", "values": [0.3,0.4,0.6,0.7,0.8,0.9,1.1,1.2,1.3,1.4,1.6,1.7,1.8,1.9,2.1,2.2,2.3,2.4,2.6,2.7,2.8,2.9,3.1,3.2,3.3,3.4,3.6,3.7,3.8], "labels": false, "tickSize": -7.5, "domain": false, "title": null}},
  "color": {"field": "obs", "type": "nominal", "legend": null},
  "opacity": {"field": "obs", "type": "nominal", "legend": null}
 }
},
{
 "data": {"name": "bars"},
 "mark": {"type": "point", "filled": true, "shape": "M0,-1L-0.78,0L0,1Z", "size": 3844, "strokeWidth": 0},
 "encoding": {
  "x": {"field": "Rhi", "type": "quantitative", "axis": {"orient": "top", "values": [8.2,8.4,8.6,8.8,9.2,9.4,9.6,9.8,10.2,10.4,10.6,10.8,11.2,11.4,11.6,11.8,12.2,12.4,12.6,12.8,13.2,13.4,13.6,13.8], "labels": false, "tickSize": -7.5, "domain": false, "title": null}},
  "y": {"field": "M", "type": "quantitative", "axis": {"orient": "right", "values": [0.3,0.4,0.6,0.7,0.8,0.9,1.1,1.2,1.3,1.4,1.6,1.7,1.8,1.9,2.1,2.2,2.3,2.4,2.6,2.7,2.8,2.9,3.1,3.2,3.3,3.4,3.6,3.7,3.8], "labels": false, "tickSize": -7.5, "domain": false, "title": null}},
  "color": {"field": "obs", "type": "nominal", "legend": null},
  "opacity": {"field": "obs", "type": "nominal", "legend": null}
 }
},
{
 "data": {"name": "labels"},
 "mark": {"type": "text", "font": "Liberation Sans", "fontSize": 36, "fontWeight": "bold", "align": "center", "baseline": "middle"},
 "encoding": {
  "x": {"field": "R", "type": "quantitative", "axis": null},
  "y": {"field": "M", "type": "quantitative", "axis": null},
  "text": {"field": "label", "type": "nominal"},
  "color": {"field": "obs", "type": "nominal", "legend": null}
 }
},
{
 "data": {"name": "note"},
 "mark": {"type": "text", "font": "Liberation Serif", "fontSize": 48, "align": "center", "baseline": "middle", "color": "black"},
 "encoding": {
  "x": {"field": "R", "type": "quantitative", "axis": null},
  "y": {"field": "M", "type": "quantitative", "axis": null},
  "text": {"field": "text", "type": "nominal"}
 }
}
]
}
